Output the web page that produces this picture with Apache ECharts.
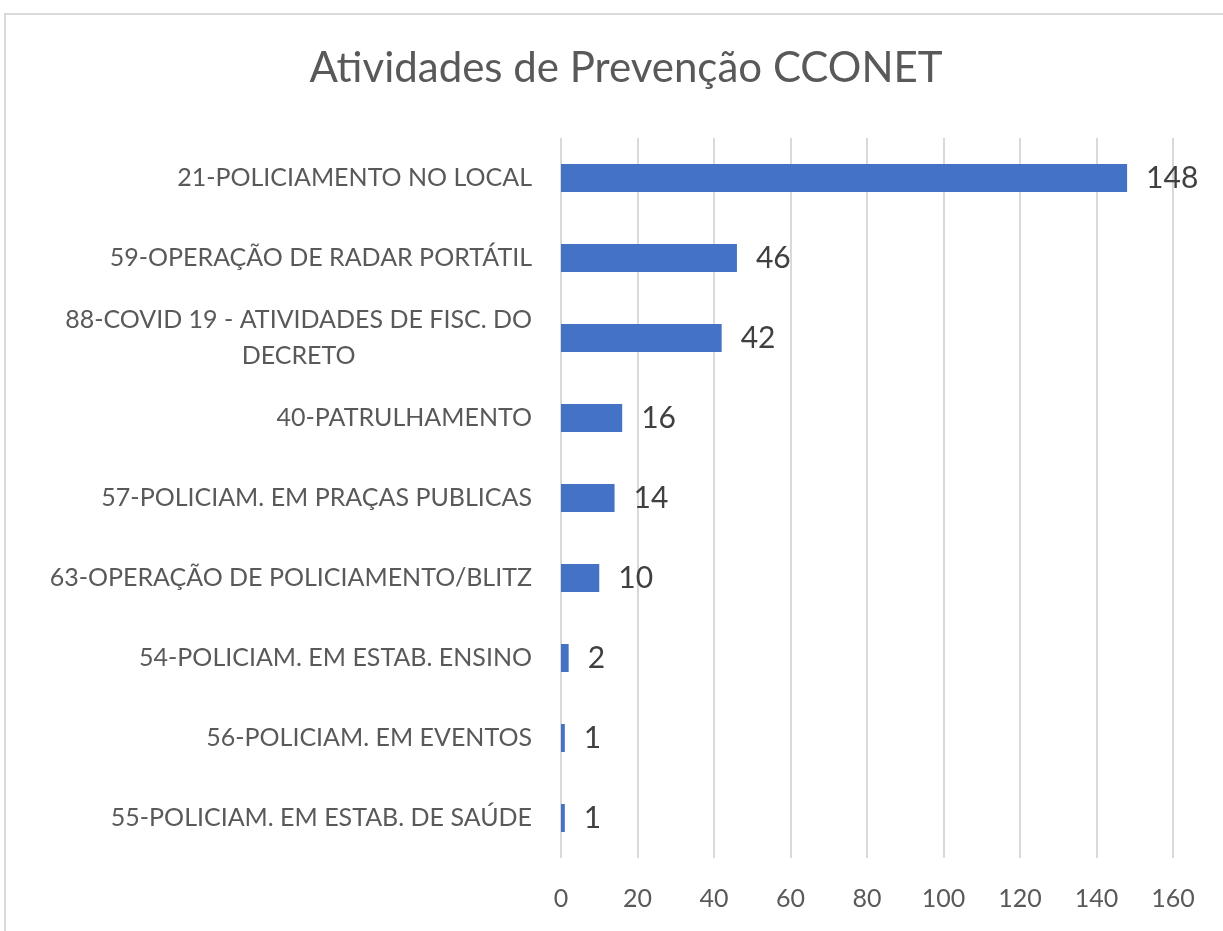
<!DOCTYPE html>
<html><head><meta charset="utf-8">
<script src="https://cdn.jsdelivr.net/npm/echarts@6/dist/echarts.min.js"></script>
<style>
html,body{margin:0;padding:0;background:#fff;overflow:hidden}
#frame{position:absolute;left:4px;top:13px;width:1240px;height:940px;border:2px solid #d9d9d9;box-sizing:border-box}
#c{position:absolute;left:0;top:0;width:1223px;height:931px}
</style></head>
<body>
<div id="frame"></div>
<div id="c"></div>
<script>
const titleText = 'Atividades de Prevenção CCONET';
const categories = [
  '21-POLICIAMENTO NO LOCAL',
  '59-OPERAÇÃO DE RADAR PORTÁTIL',
  '88-COVID 19 - ATIVIDADES DE FISC. DO\nDECRETO',
  '40-PATRULHAMENTO',
  '57-POLICIAM. EM PRAÇAS PUBLICAS',
  '63-OPERAÇÃO DE POLICIAMENTO/BLITZ',
  '54-POLICIAM. EM ESTAB. ENSINO',
  '56-POLICIAM. EM EVENTOS',
  '55-POLICIAM. EM ESTAB. DE SAÚDE'
];
const values = [148, 46, 42, 16, 14, 10, 2, 1, 1];
const xTicks = [0, 20, 40, 60, 80, 100, 120, 140, 160];

const FONT = 'Lato';
const chart = echarts.init(document.getElementById('c'), null, {renderer: 'canvas'});
chart.setOption({
  animation: false,
  title: {
    text: titleText, left: 621, top: 42, textAlign: 'center',
    textStyle: {fontFamily: FONT, fontSize: 42, fontWeight: 'normal', color: '#595959'}
  },
  grid: {left: 561, right: 50, top: 138, bottom: 73, containLabel: false},
  xAxis: {
    type: 'value', min: xTicks[0], max: xTicks[xTicks.length - 1], interval: 20,
    axisLine: {show: false}, axisTick: {show: false},
    splitLine: {show: true, lineStyle: {color: '#d9d9d9', width: 2}},
    axisLabel: {fontFamily: FONT, fontSize: 25, color: '#595959', margin: 28}
  },
  yAxis: {
    type: 'category', data: categories, inverse: true,
    axisLine: {show: false}, axisTick: {show: false},
    axisLabel: {
      fontFamily: FONT, fontSize: 25, color: '#595959', margin: 29,
      formatter: function (v) {
        return v.split('\n').map(function (s) { return '{c|' + s + '}'; }).join('\n');
      },
      rich: {c: {fontFamily: FONT, fontSize: 25, color: '#595959', align: 'center', lineHeight: 36}}
    }
  },
  series: [{
    type: 'bar', data: values, barWidth: 28,
    itemStyle: {color: '#4472C4'},
    label: {show: true, position: 'right', distance: 19, fontFamily: FONT, fontSize: 30, color: '#404040'}
  }]
});
</script>
</body></html>
